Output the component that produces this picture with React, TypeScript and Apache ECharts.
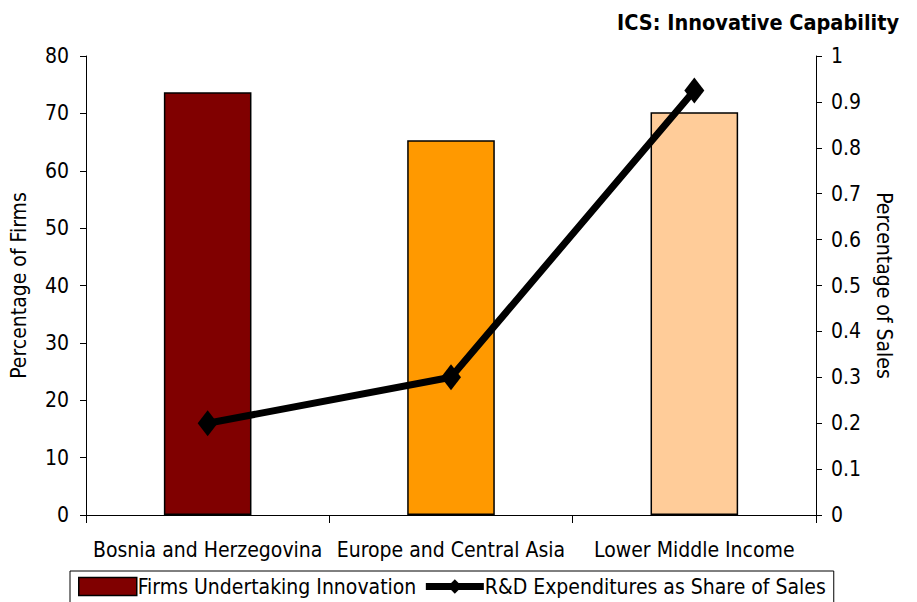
import React, { useEffect, useRef } from "react";
import * as echarts from "echarts";

const categories = ["Bosnia and Herzegovina", "Europe and Central Asia", "Lower Middle Income"];
const firmsInnovation = [73.7, 65.3, 70.2];
const rdShare = [0.2, 0.3, 0.925];
const barColors = ["#800000", "#FF9900", "#FFCC99"];
const leftTicks = [0, 80, 10];
const rightTicks = [0, 1, 0.1];

const FONT = '"DejaVu Sans Condensed", "Liberation Sans Narrow", "DejaVu Sans", sans-serif';
const FS = 21;

export default function App() {
  const ref = useRef<HTMLDivElement>(null);
  useEffect(() => {
    if (!ref.current) return;
    const chart = echarts.init(ref.current, undefined, { renderer: "svg" });
    chart.setOption({
      animation: false,
      backgroundColor: "#ffffff",
      textStyle: { fontFamily: FONT, color: "#000" },
      title: {
        text: "ICS: Innovative Capability",
        right: 13,
        top: 6,
        textStyle: { fontFamily: FONT, fontSize: 21.5, fontWeight: "bold", color: "#000" },
      },
      grid: { left: 86, right: 101, top: 56, bottom: 87, containLabel: false, outerBoundsMode: "none" },
      legend: {
        left: 70,
        top: 571,
        padding: [5, 8, 8, 8],
        borderColor: "#000",
        borderWidth: 1,
        itemGap: 6,
        itemWidth: 58,
        itemHeight: 18,
        textStyle: { fontFamily: FONT, fontSize: FS, color: "#000", padding: [0, 0, 0, -4] },
        data: [
          { name: "Firms Undertaking Innovation", icon: "rect", itemStyle: { color: "#800000", borderColor: "#000", borderWidth: 1.5 } },
          { name: "R&D Expenditures as Share of Sales", lineStyle: { width: 7, color: "#000" }, itemStyle: { color: "#000" } },
        ],
      },
      xAxis: {
        type: "category",
        data: categories,
        axisLine: { lineStyle: { color: "#000", width: 1 } },
        axisTick: { show: true, alignWithLabel: false, length: 8, lineStyle: { color: "#000" } },
        axisLabel: { fontFamily: FONT, fontSize: FS, color: "#000", margin: 24, interval: 0, hideOverlap: false },
      },
      yAxis: [
        {
          type: "value",
          min: leftTicks[0],
          max: leftTicks[1],
          interval: leftTicks[2],
          name: "Percentage of Firms",
          nameLocation: "middle",
          nameGap: 57,
          nameTextStyle: { fontFamily: FONT, fontSize: FS, color: "#000" },
          axisLine: { show: true, lineStyle: { color: "#000" } },
          axisTick: { show: true, length: 6, lineStyle: { color: "#000" } },
          axisLabel: { fontFamily: FONT, fontSize: FS, color: "#000", margin: 17 },
          splitLine: { show: false },
        },
        {
          type: "value",
          min: rightTicks[0],
          max: rightTicks[1],
          interval: rightTicks[2],
          position: "right",
          name: "Percentage of Sales",
          nameLocation: "middle",
          nameGap: 57,
          nameRotate: -90,
          nameTextStyle: { fontFamily: FONT, fontSize: FS, color: "#000" },
          axisLine: { show: true, lineStyle: { color: "#000" } },
          axisTick: { show: true, length: 6, lineStyle: { color: "#000" } },
          axisLabel: { fontFamily: FONT, fontSize: FS, color: "#000", margin: 15 },
          splitLine: { show: false },
        },
      ],
      series: [
        {
          name: "Firms Undertaking Innovation",
          type: "bar",
          yAxisIndex: 0,
          barWidth: "36%",
          data: firmsInnovation.map((v, i) => ({
            value: v,
            itemStyle: { color: barColors[i], borderColor: "#000", borderWidth: 1.5 },
          })),
          itemStyle: { color: "#800000", borderColor: "#000", borderWidth: 1.5 },
        },
        {
          name: "R&D Expenditures as Share of Sales",
          type: "line",
          yAxisIndex: 1,
          data: rdShare,
          symbol: "diamond",
          symbolSize: [20, 26],
          lineStyle: { color: "#000", width: 7 },
          itemStyle: { color: "#000" },
        },
      ],
    });
    return () => chart.dispose();
  }, []);
  return <div ref={ref} style={{ width: 917, height: 602, position: "absolute", left: 0, top: 0 }} />;
}
